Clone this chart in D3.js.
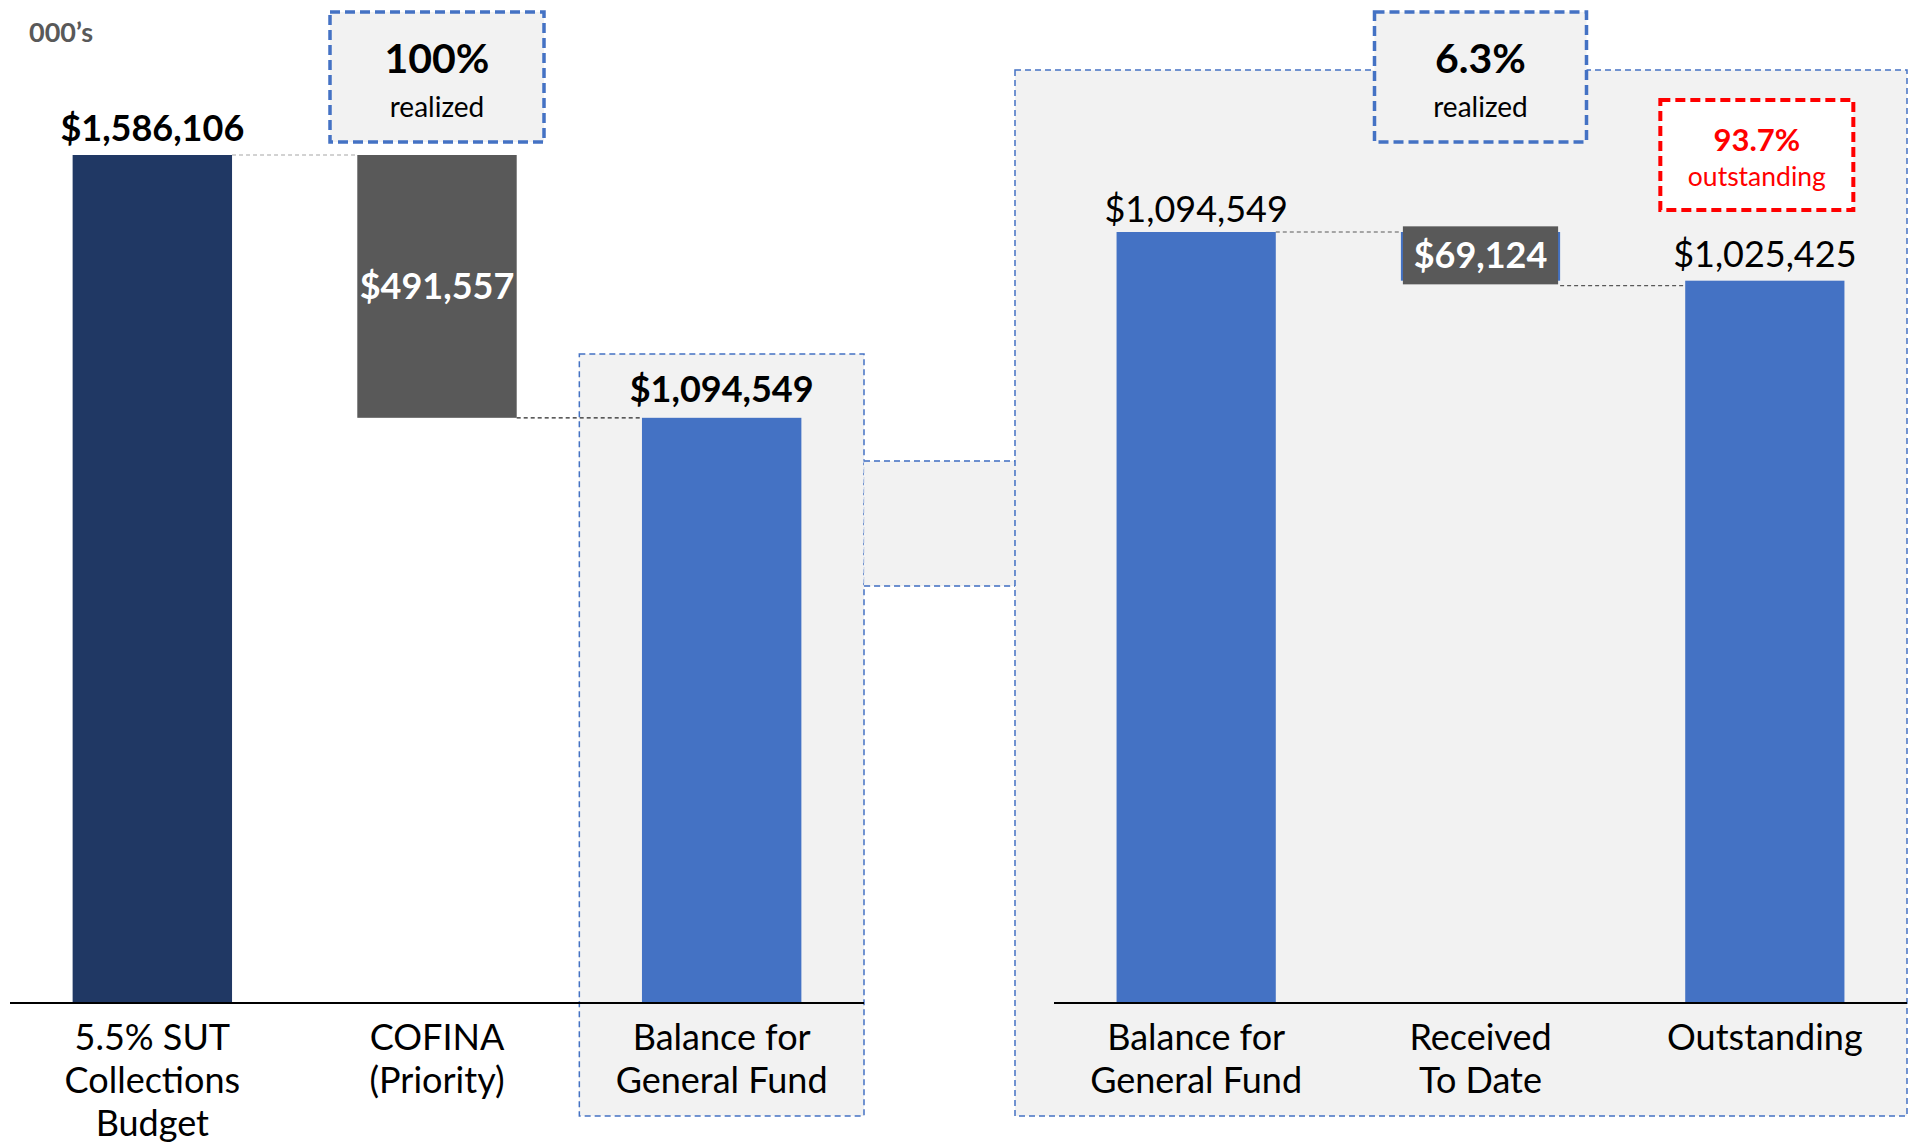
<!DOCTYPE html>
<html>
<head>
    <title>SUT Collections Waterfall</title>
    <script src="https://d3js.org/d3.v7.min.js"></script>
    <style>
        body { margin: 0; background: #fff; }
        text { font-family: Lato, 'Open Sans', sans-serif; }
    </style>
</head>
<body>
    <svg id="chart"></svg>
    <script>
        // Left waterfall (budget split)
        const leftLabels = ['5.5% SUT\nCollections\nBudget', 'COFINA\n(Priority)', 'Balance for\nGeneral Fund'];
        const leftValues = [1586106, 491557, 1094549];

        // Right waterfall (general fund status)
        const rightLabels = ['Balance for\nGeneral Fund', 'Received\nTo Date', 'Outstanding'];
        const rightValues = [1094549, 69124, 1025425];

        // Callouts
        const realizedLeft = '100%';
        const realizedRight = '6.3%';
        const outstandingPct = '93.7%';

        const width = 1913;
        const height = 1144;
        const baseY = 1003;

        const navy = '#203864', grey = '#595959', blue = '#4472C4', panel = '#F2F2F2';
        const fmt = v => '$' + d3.format(',')(v);

        const svg = d3.select('#chart')
            .attr('width', width)
            .attr('height', height);

        const xLeft = d3.scaleBand().domain(leftLabels).range([10, 864]).paddingInner(0.44).paddingOuter(0.22);
        const xRight = d3.scaleBand().domain(rightLabels).range([1054, 1907]).paddingInner(0.44).paddingOuter(0.22);
        const yLeft = d3.scaleLinear().domain([0, leftValues[0]]).range([baseY, 155]);
        const yRight = d3.scaleLinear().domain([0, rightValues[0]]).range([baseY, 232]);

        // waterfall segments: [bottom, top]
        const leftSegs = [
            [0, leftValues[0]],
            [leftValues[0] - leftValues[1], leftValues[0]],
            [0, leftValues[2]]
        ];
        const rightSegs = [
            [0, rightValues[0]],
            [rightValues[0] - rightValues[1], rightValues[0]],
            [0, rightValues[2]]
        ];

        // background panels
        const leftPanelX = xLeft(leftLabels[2]) + xLeft.bandwidth() / 2 - xLeft.step() / 2;
        svg.append('rect')
            .attr('x', leftPanelX).attr('y', 354)
            .attr('width', xLeft.step()).attr('height', 762)
            .attr('fill', panel).attr('stroke', blue).attr('stroke-width', 1.5)
            .attr('stroke-dasharray', '6,4');

        const rightPanelX = 1015;
        svg.append('rect')
            .attr('x', leftPanelX + xLeft.step()).attr('y', 461)
            .attr('width', rightPanelX - leftPanelX - xLeft.step()).attr('height', 125)
            .attr('fill', panel).attr('stroke', '#D3DBEA').attr('stroke-width', 1.2)
            .attr('stroke-dasharray', '6,4');
        [461, 586].forEach(y => {
            svg.append('line')
                .attr('x1', leftPanelX + xLeft.step()).attr('x2', rightPanelX)
                .attr('y1', y).attr('y2', y)
                .attr('stroke', blue).attr('stroke-width', 1.5).attr('stroke-dasharray', '6,4');
        });

        svg.append('rect')
            .attr('x', rightPanelX).attr('y', 70)
            .attr('width', 892).attr('height', 1046)
            .attr('fill', panel).attr('stroke', blue).attr('stroke-width', 1.5)
            .attr('stroke-dasharray', '6,4');

        // bars
        const leftColors = [navy, grey, blue];
        svg.selectAll('.lbar')
            .data(leftSegs)
            .enter().append('rect')
            .attr('class', 'lbar')
            .attr('x', (d, i) => xLeft(leftLabels[i]))
            .attr('y', d => yLeft(d[1]))
            .attr('width', xLeft.bandwidth())
            .attr('height', d => yLeft(d[0]) - yLeft(d[1]))
            .attr('fill', (d, i) => leftColors[i]);

        svg.selectAll('.rbar')
            .data(rightSegs)
            .enter().append('rect')
            .attr('class', 'rbar')
            .attr('x', (d, i) => xRight(rightLabels[i]))
            .attr('y', d => yRight(d[1]))
            .attr('width', xRight.bandwidth())
            .attr('height', d => yRight(d[0]) - yRight(d[1]))
            .attr('fill', blue);

        // connectors
        function connector(x1, x2, y, color) {
            svg.append('line')
                .attr('x1', x1).attr('x2', x2).attr('y1', y).attr('y2', y)
                .attr('stroke', color).attr('stroke-width', 1.2).attr('stroke-dasharray', '4,3');
        }
        connector(xLeft(leftLabels[0]) + xLeft.bandwidth(), xLeft(leftLabels[1]), yLeft(leftSegs[0][1]), '#A6A6A6');
        connector(xLeft(leftLabels[1]) + xLeft.bandwidth(), xLeft(leftLabels[2]), yLeft(leftSegs[1][0]), '#262626');
        connector(xRight(rightLabels[0]) + xRight.bandwidth(), xRight(rightLabels[1]), yRight(rightSegs[0][1]), '#595959');
        connector(xRight(rightLabels[1]) + xRight.bandwidth(), xRight(rightLabels[2]), yRight(rightSegs[1][0]) + 5, '#595959');

        // axis baselines
        svg.append('line').attr('x1', 10).attr('x2', 864).attr('y1', baseY).attr('y2', baseY)
            .attr('stroke', '#000').attr('stroke-width', 2);
        svg.append('line').attr('x1', 1054).attr('x2', 1907).attr('y1', baseY).attr('y2', baseY)
            .attr('stroke', '#000').attr('stroke-width', 2);

        // category labels
        function catLabels(x, labels) {
            labels.forEach(l => {
                const t = svg.append('text')
                    .attr('text-anchor', 'middle')
                    .attr('font-size', 36)
                    .attr('fill', '#000');
                l.split('\n').forEach((line, j) => {
                    t.append('tspan')
                        .attr('x', x(l) + x.bandwidth() / 2)
                        .attr('y', 1050 + j * 43)
                        .text(line);
                });
            });
        }
        catLabels(xLeft, leftLabels);
        catLabels(xRight, rightLabels);

        // value labels
        const cx = (x, l) => x(l) + x.bandwidth() / 2;
        svg.append('text').attr('x', cx(xLeft, leftLabels[0])).attr('y', yLeft(leftSegs[0][1]) - 14)
            .attr('text-anchor', 'middle').attr('font-size', 36).attr('font-weight', 'bold')
            .text(fmt(leftValues[0]));
        svg.append('text').attr('x', cx(xLeft, leftLabels[1]))
            .attr('y', (yLeft(leftSegs[1][0]) + yLeft(leftSegs[1][1])) / 2 + 13)
            .attr('text-anchor', 'middle').attr('font-size', 36).attr('font-weight', 'bold').attr('fill', '#fff')
            .text(fmt(leftValues[1]));
        svg.append('text').attr('x', cx(xLeft, leftLabels[2])).attr('y', yLeft(leftSegs[2][1]) - 16)
            .attr('text-anchor', 'middle').attr('font-size', 36).attr('font-weight', 'bold')
            .text(fmt(leftValues[2]));

        svg.append('text').attr('x', cx(xRight, rightLabels[0])).attr('y', yRight(rightSegs[0][1]) - 10)
            .attr('text-anchor', 'middle').attr('font-size', 36)
            .text(fmt(rightValues[0]));
        const recMid = (yRight(rightSegs[1][0]) + yRight(rightSegs[1][1])) / 2;
        svg.append('rect')
            .attr('x', xRight(rightLabels[1]) + 2).attr('y', recMid - 30)
            .attr('width', xRight.bandwidth() - 4).attr('height', 58)
            .attr('fill', grey);
        svg.append('text').attr('x', cx(xRight, rightLabels[1])).attr('y', recMid + 12)
            .attr('text-anchor', 'middle').attr('font-size', 36).attr('font-weight', 'bold').attr('fill', '#fff')
            .text(fmt(rightValues[1]));
        svg.append('text').attr('x', cx(xRight, rightLabels[2])).attr('y', yRight(rightSegs[2][1]) - 14)
            .attr('text-anchor', 'middle').attr('font-size', 36)
            .text(fmt(rightValues[2]));

        // units note
        svg.append('text').attr('x', 29).attr('y', 42)
            .attr('font-size', 27).attr('font-weight', 'bold').attr('fill', grey)
            .text('000\u2019s');

        // callout boxes
        function callout(cxPos, w, y, h, big, small, color, fill, sw, bigSize, smallSize, bigY, smallY) {
            svg.append('rect')
                .attr('x', cxPos - w / 2).attr('y', y).attr('width', w).attr('height', h)
                .attr('fill', fill).attr('stroke', color).attr('stroke-width', sw)
                .attr('stroke-dasharray', '10,5');
            svg.append('text').attr('x', cxPos).attr('y', bigY)
                .attr('text-anchor', 'middle').attr('font-size', bigSize).attr('font-weight', 'bold')
                .attr('fill', color === blue ? '#000' : color)
                .text(big);
            svg.append('text').attr('x', cxPos).attr('y', smallY)
                .attr('text-anchor', 'middle').attr('font-size', smallSize)
                .attr('fill', color === blue ? '#000' : color)
                .text(small);
        }
        callout(cx(xLeft, leftLabels[1]), 214, 12, 130, realizedLeft, 'realized', blue, panel, 3.5, 41, 28, 73, 117);
        callout(cx(xRight, rightLabels[1]), 212, 12, 130, realizedRight, 'realized', blue, panel, 3.5, 41, 28, 73, 117);
        callout(cx(xRight, rightLabels[2]) - 8, 193, 100, 110, outstandingPct, 'outstanding', '#FF0000', '#fff', 4, 31, 26.5, 151, 186);
    </script>
</body>
</html>
